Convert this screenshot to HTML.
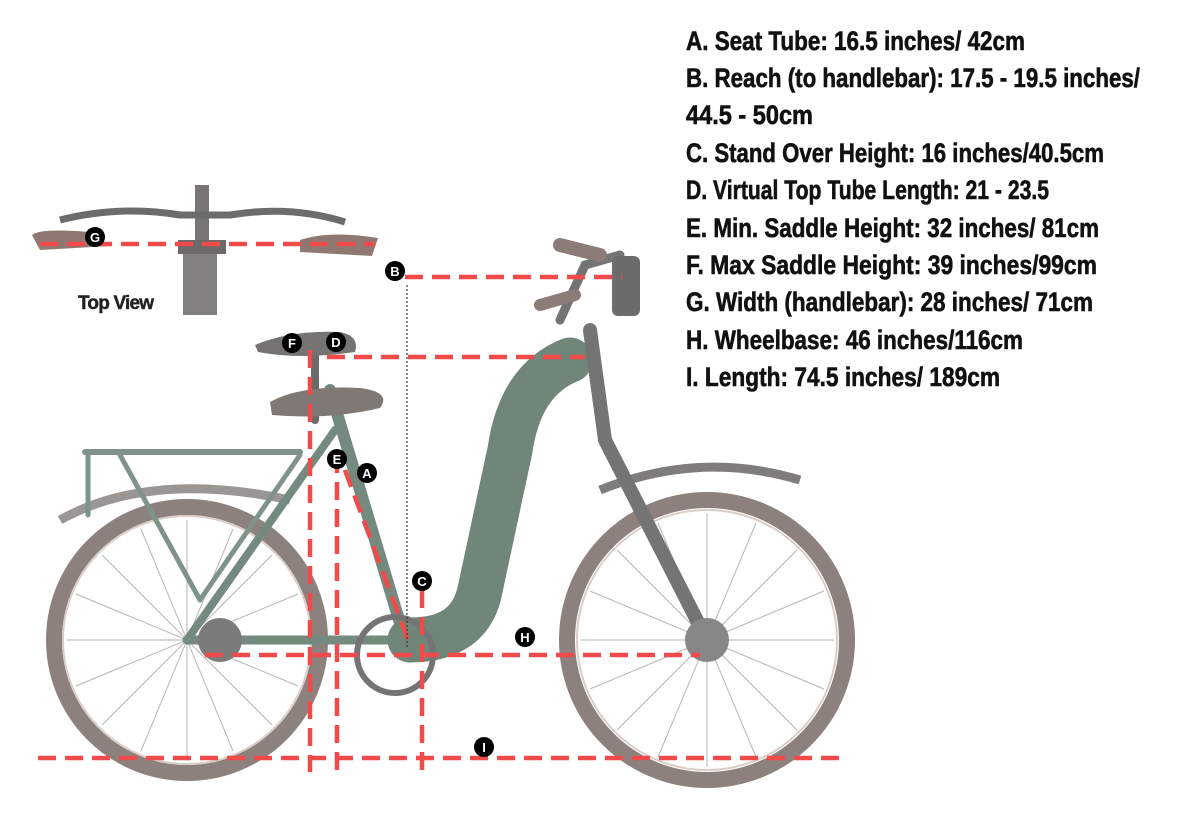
<!DOCTYPE html>
<html><head><meta charset="utf-8"><style>
html,body{margin:0;padding:0;background:#fff;}
svg{display:block;}
.t{font-family:"Liberation Sans Narrow","Liberation Sans",sans-serif;font-weight:bold;font-size:27px;fill:#111;stroke:#111;stroke-width:0.6;}
.r{stroke:#f04a4a;stroke-width:4.5;stroke-dasharray:18 9;fill:none;}
.bl{font-family:"Liberation Sans",sans-serif;font-weight:bold;font-size:13px;fill:#fff;text-anchor:middle;}
</style></head><body>
<svg width="1200" height="818" viewBox="0 0 1200 818" xmlns="http://www.w3.org/2000/svg">
<g opacity="0.75">
<rect x="183" y="245" width="34" height="70" fill="#5a5656"/>
<rect x="195" y="185" width="14" height="60" fill="#4a4848"/>
<path d="M60 220 Q120 205 180 215 L230 215 Q290 205 345 222" stroke="#3d3b3b" stroke-width="7" fill="none"/>
<path d="M32 235 Q40 228 90 232 L110 246 L40 250 Z" fill="#6b4c44"/>
<path d="M300 240 Q330 230 378 238 L372 256 L300 252 Z" fill="#6b4c44"/>
<rect x="178" y="240" width="48" height="14" fill="#3a3838"/>
</g>
<text x="78" y="309" font-family="Liberation Sans Narrow,Liberation Sans,sans-serif" font-weight="bold" font-size="19" fill="#222" stroke="#222" stroke-width="0.4" textLength="76">Top View</text>

<g opacity="0.7">
<g fill="none">
<circle cx="187" cy="640" r="133" stroke="#5e4d47" stroke-width="16"/>
<circle cx="187" cy="640" r="124" stroke="#cbb8ae" stroke-width="2"/>
<circle cx="707" cy="640" r="140" stroke="#5e4d47" stroke-width="16"/>
<circle cx="707" cy="640" r="130" stroke="#cbb8ae" stroke-width="2"/>
<g stroke="#9a9696" stroke-width="1">
<path d="M187 520 L187 760 M67 640 L307 640 M102 555 L272 725 M272 555 L102 725 M141 529 L233 751 M233 529 L141 751 M76 594 L298 686 M76 686 L298 594"/>
<path d="M707 513 L707 767 M580 640 L834 640 M617 550 L797 730 M797 550 L617 730 M658 523 L756 757 M756 523 L658 757 M590 591 L824 689 M590 689 L824 591"/>
</g>
<path d="M60 520 Q150 470 290 500" stroke="#6e6a66" stroke-width="9"/>
<path d="M600 490 Q700 450 800 480" stroke="#4a4745" stroke-width="9"/>
</g>
<g fill="none" stroke-linecap="round">
<path d="M85 452 L300 452" stroke="#4b6657" stroke-width="6"/>
<path d="M88 455 L88 515 M120 455 L200 600 M300 455 L200 600" stroke="#4b6657" stroke-width="5"/>
<path d="M330 390 L405 640" stroke="#3b5a48" stroke-width="12"/>
<path d="M187 640 L400 640" stroke="#3b5a48" stroke-width="9"/>
<path d="M187 640 L335 430" stroke="#3b5a48" stroke-width="8"/>
<path d="M570 360 Q520 380 510 450 L480 590 Q470 640 410 640" stroke="#34533f" stroke-width="45"/>
<path d="M590 330 L605 440 L707 640" stroke="#3a3a3a" stroke-width="14"/>
<path d="M560 320 L585 265 L620 255" stroke="#3a3a3a" stroke-width="9"/>
<path d="M560 245 L600 255" stroke="#5b4640" stroke-width="14"/>
<path d="M540 305 L575 295" stroke="#5b4640" stroke-width="12"/>
<path d="M315 350 L315 420" stroke="#2c2c2c" stroke-width="8"/>
</g>
<rect x="612" y="256" width="28" height="60" rx="6" fill="#2f2f2f"/>
<circle cx="395" cy="655" r="38" fill="none" stroke="#3a3a3a" stroke-width="6"/>
<path d="M255 345 Q290 330 340 332 Q360 336 355 352 Q300 360 258 352 Z" fill="#3d3938"/>
<path d="M270 402 Q300 385 360 388 Q392 392 380 408 Q330 420 272 415 Z" fill="#4a3f3b"/>
<circle cx="220" cy="640" r="22" fill="#444"/>
<circle cx="707" cy="640" r="22" fill="#555"/>
</g>

<path class="r" d="M40 244 L375 244"/>
<path class="r" d="M405 277 L622 277"/>
<path class="r" d="M327 357 L585 357"/>
<path class="r" d="M310 350 L310 772"/>
<path class="r" d="M337 455 L337 772"/>
<path class="r" d="M345 470 L408 640"/>
<path class="r" d="M422 590 L422 772"/>
<path class="r" d="M205 655 L700 655"/>
<path class="r" d="M38 758 L845 758"/>
<path d="M407 285 L407 648" stroke="#333" stroke-width="1.2" stroke-dasharray="2 2"/>

<g>
<circle cx="95" cy="237" r="10"/><text class="bl" x="95" y="242">G</text>
<circle cx="395" cy="271" r="10"/><text class="bl" x="395" y="276">B</text>
<circle cx="292" cy="343" r="10"/><text class="bl" x="292" y="348">F</text>
<circle cx="336" cy="342" r="10"/><text class="bl" x="336" y="347">D</text>
<circle cx="337" cy="459" r="10"/><text class="bl" x="337" y="464">E</text>
<circle cx="367" cy="473" r="10"/><text class="bl" x="367" y="478">A</text>
<circle cx="422" cy="581" r="10"/><text class="bl" x="422" y="586">C</text>
<circle cx="525" cy="637" r="10"/><text class="bl" x="525" y="642">H</text>
<circle cx="484" cy="747" r="10"/><text class="bl" x="484" y="752">I</text>
</g>

<text class="t" x="686" y="50" textLength="339" lengthAdjust="spacingAndGlyphs">A. Seat Tube: 16.5 inches/ 42cm</text>
<text class="t" x="686" y="87" textLength="454" lengthAdjust="spacingAndGlyphs">B. Reach (to handlebar): 17.5 - 19.5 inches/</text>
<text class="t" x="686" y="124" textLength="127" lengthAdjust="spacingAndGlyphs">44.5 - 50cm</text>
<text class="t" x="686" y="162" textLength="418" lengthAdjust="spacingAndGlyphs">C. Stand Over Height: 16 inches/40.5cm</text>
<text class="t" x="686" y="199" textLength="363" lengthAdjust="spacingAndGlyphs">D. Virtual Top Tube Length: 21 - 23.5</text>
<text class="t" x="686" y="237" textLength="413" lengthAdjust="spacingAndGlyphs">E. Min. Saddle Height: 32 inches/ 81cm</text>
<text class="t" x="686" y="274" textLength="411" lengthAdjust="spacingAndGlyphs">F. Max Saddle Height: 39 inches/99cm</text>
<text class="t" x="686" y="311" textLength="407" lengthAdjust="spacingAndGlyphs">G. Width (handlebar): 28 inches/ 71cm</text>
<text class="t" x="686" y="349" textLength="337" lengthAdjust="spacingAndGlyphs">H. Wheelbase: 46 inches/116cm</text>
<text class="t" x="686" y="386" textLength="314" lengthAdjust="spacingAndGlyphs">I. Length: 74.5 inches/ 189cm</text>
</svg>
</body></html>
